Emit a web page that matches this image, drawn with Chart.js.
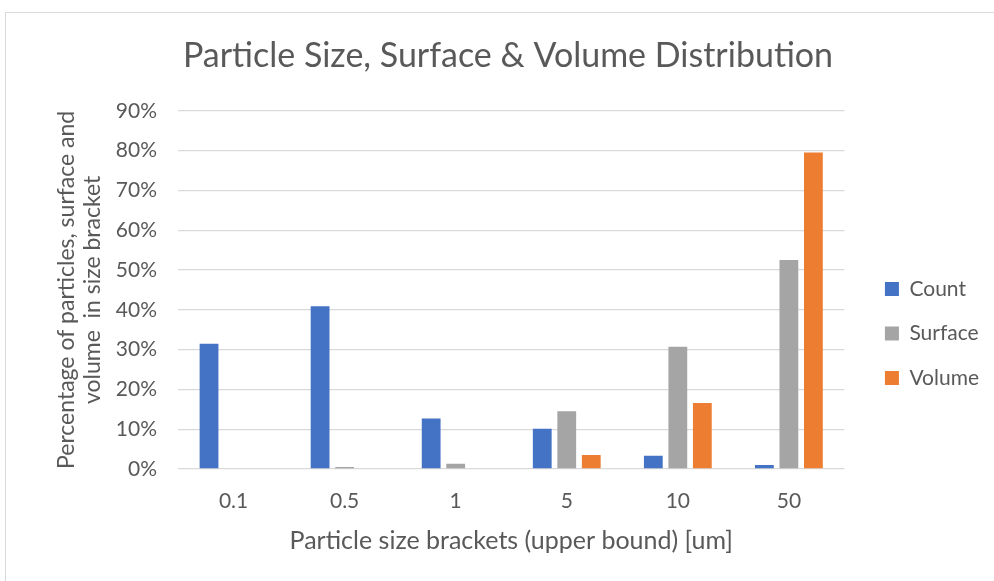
<!DOCTYPE html>
<html>
<head>
<meta charset="utf-8">
<title>Particle Size, Surface &amp; Volume Distribution</title>
<script src="https://cdn.jsdelivr.net/npm/chart.js@4/dist/chart.umd.min.js"></script>
<style>
  html, body { margin: 0; padding: 0; background: #ffffff; }
  body { width: 994px; height: 581px; overflow: hidden; position: relative; }
  #frame {
    position: absolute; left: 5px; top: 12px; width: 1100px; height: 700px;
    border: 1px solid #d9d9d9; box-sizing: border-box;
  }
  #chart { position: absolute; left: 0; top: 0; }
</style>
</head>
<body>
<div id="frame"></div>
<canvas id="chart" width="994" height="581"></canvas>
<script>
// Size brackets (upper bound, um) and the share of each quantity per bracket (%)
const sizeBrackets = ['0.1', '0.5', '1', '5', '10', '50'];
const countShare   = [31.5, 40.9, 12.7, 10.1, 3.3, 1.0];
const surfaceShare = [0.0, 0.5, 1.3, 14.5, 30.7, 52.5];
const volumeShare  = [0.0, 0.0, 0.0, 3.5, 16.6, 79.5];
const percentTicks = [0, 10, 20, 30, 40, 50, 60, 70, 80, 90];

const FONT = 'Lato, "Open Sans", sans-serif';
const TEXT = '#595959';
const GRID = '#d9d9d9';

// Move the legend block down/right so it sits beside the lower half of the plot
const legendOffset = {
  id: 'legendOffset',
  afterLayout(chart) {
    const lg = chart.legend;
    if (!lg) return;
    const dx = 17, dy = 43;
    lg.left += dx; lg.right += dx;
    lg.top += dy; lg.bottom += dy;
  }
};

new Chart(document.getElementById('chart'), {
  type: 'bar',
  data: {
    labels: sizeBrackets,
    datasets: [
      { label: 'Count',   data: countShare,   backgroundColor: '#4472C4' },
      { label: 'Surface', data: surfaceShare, backgroundColor: '#A5A5A5' },
      { label: 'Volume',  data: volumeShare,  backgroundColor: '#ED7D31' }
    ]
  },
  options: {
    responsive: false,
    animation: false,
    layout: { padding: { left: 44, right: 22, top: 0, bottom: 0 } },
    datasets: {
      bar: { categoryPercentage: 0.662, barPercentage: 0.767, borderWidth: 0 }
    },
    plugins: {
      title: {
        display: true,
        text: 'Particle Size, Surface & Volume Distribution',
        color: TEXT,
        font: { family: FONT, size: 34, weight: 'normal', lineHeight: 1.2 },
        padding: { top: 36, bottom: 34 }
      },
      legend: {
        position: 'right',
        labels: {
          color: TEXT,
          boxWidth: 14,
          boxHeight: 14,
          padding: 23.5,
          font: { family: FONT, size: 21 }
        }
      },
      tooltip: { enabled: false }
    },
    scales: {
      x: {
        grid: { display: false, drawTicks: false },
        border: { display: false },
        ticks: {
          color: TEXT,
          padding: 20,
          font: { family: FONT, size: 21 }
        },
        title: {
          display: true,
          text: 'Particle size brackets (upper bound) [um]',
          color: TEXT,
          font: { family: FONT, size: 25, lineHeight: 1.2 },
          padding: { top: 0, bottom: 25 }
        },
        afterFit(scale) { scale.height = 112; }
      },
      y: {
        min: 0,
        max: 90,
        afterBuildTicks(scale) {
          scale.ticks = percentTicks.map(v => ({ value: v }));
        },
        grid: { color: GRID, lineWidth: 1.3, drawTicks: false },
        border: { display: false },
        ticks: {
          color: TEXT,
          padding: 21,
          font: { family: FONT, size: 21 },
          callback: v => v + '%'
        },
        title: {
          display: true,
          text: ['Percentage of particles, surface and', 'volume  in size bracket'],
          color: TEXT,
          font: { family: FONT, size: 23, lineHeight: 1.13 },
          padding: { top: 10, bottom: 0 }
        },
        afterFit(scale) { scale.width = 134; }
      }
    }
  },
  plugins: [legendOffset]
});
</script>
</body>
</html>
